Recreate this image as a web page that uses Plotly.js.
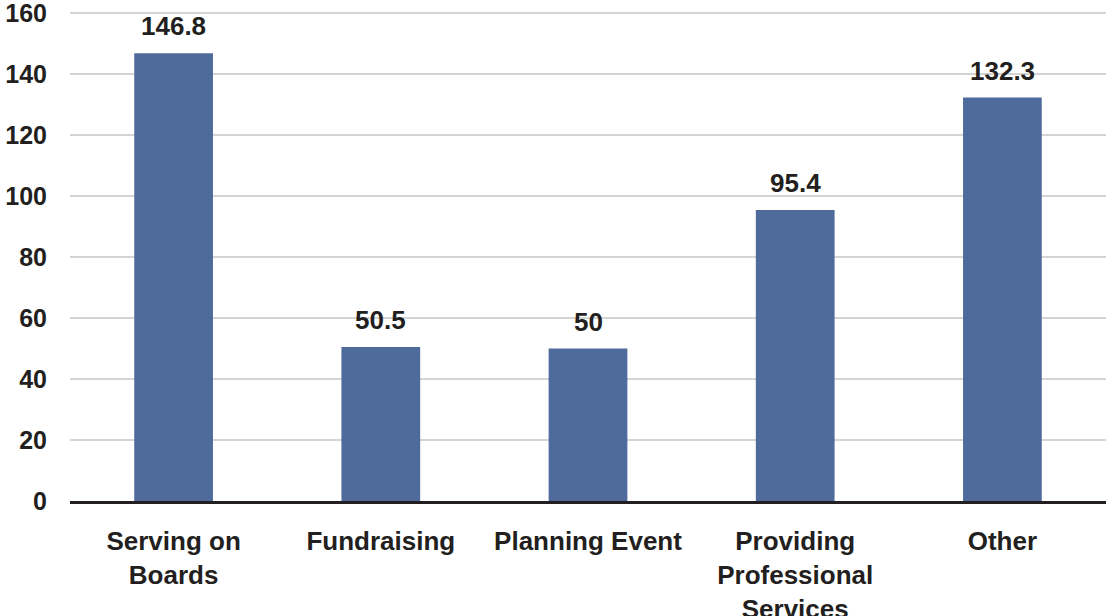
<!DOCTYPE html>
<html>
<head>
<meta charset="utf-8">
<script src="https://cdn.plot.ly/plotly-3.0.1.min.js"></script>
<style>html,body{margin:0;padding:0;background:#fff;}#chart{width:1107px;height:616px;}</style>
</head>
<body>
<div id="chart"></div>
<script>
const categories = ["Serving on<br>Boards", "Fundraising", "Planning Event", "Providing<br>Professional<br>Services", "Other"];
const values = [146.8, 50.5, 50, 95.4, 132.3];
const valueLabels = ["146.8", "50.5", "50", "95.4", "132.3"];
const yTicks = [0, 20, 40, 60, 80, 100, 120, 140, 160];

const fontFam = "Liberation Sans, Arial, sans-serif";
const textColor = "#231f20";

const trace = {
  type: "bar",
  x: categories,
  y: values,
  marker: {color: "#4e6b9c", line: {width: 0}},
  hoverinfo: "none"
};

const annotations = categories.map((c, i) => ({
  x: c, y: values[i], xref: "x", yref: "y",
  text: "<b>" + valueLabels[i] + "</b>",
  showarrow: false, yanchor: "bottom", yshift: 10,
  font: {family: fontFam, size: 26, color: textColor}
}));

const layout = {
  width: 1107, height: 616,
  margin: {l: 70, r: 1, t: 10, b: 115},
  paper_bgcolor: "#ffffff", plot_bgcolor: "#ffffff",
  showlegend: false,
  bargap: 0.62,
  xaxis: {
    type: "category",
    showgrid: false, zeroline: false,
    showline: true, linecolor: "#231f20", linewidth: 3,
    ticks: "", ticklabelstandoff: 15,
    tickfont: {family: fontFam, size: 26, color: textColor, weight: "bold"}
  },
  yaxis: {
    range: [0, 161], tickvals: yTicks, ticktext: yTicks.map(String),
    showgrid: true, gridcolor: "#d4d4d4", gridwidth: 1.5,
    zeroline: false, showline: false, ticks: "",
    ticklabelstandoff: 22, ticklabeloverflow: "allow",
    tickfont: {family: fontFam, size: 25, color: textColor, weight: "bold"}
  },
  annotations: annotations
};

Plotly.newPlot("chart", [trace], layout, {displayModeBar: false, staticPlot: true});
</script>
</body>
</html>
